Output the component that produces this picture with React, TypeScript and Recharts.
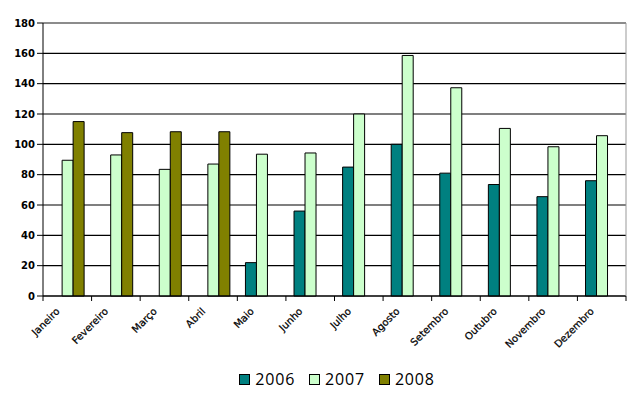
import React from "react";
import { BarChart, Bar, XAxis, YAxis, CartesianGrid, Legend, ReferenceLine } from "recharts";

const months = ["Janeiro", "Fevereiro", "Março", "Abril", "Maio", "Junho", "Julho", "Agosto", "Setembro", "Outubro", "Novembro", "Dezembro"];
const v2006: (number | null)[] = [null, null, null, null, 22, 56, 85, 100, 81, 73.5, 65.5, 76];
const v2007: (number | null)[] = [89.5, 93, 83.5, 87, 93.5, 94.3, 120, 158.6, 137.3, 110.5, 98.4, 105.7];
const v2008: (number | null)[] = [115, 107.7, 108.3, 108.3, null, null, null, null, null, null, null, null];
const yTicks = [0, 20, 40, 60, 80, 100, 120, 140, 160, 180];
const seriesNames = ["2006", "2007", "2008"];
const seriesColors = ["#008080", "#CCFFCC", "#808000"];

const data = months.map((m, i) => ({ month: m, s2006: v2006[i], s2007: v2007[i], s2008: v2008[i] }));

const BW = 583 / 12;

const XTick = (props: any) => {
  const { x, y, payload, index } = props;
  const tx = x - 7;
  const ty = y + 8;
  return (
    <g>
      <line x1={x - BW / 2} x2={x - BW / 2} y1={y - 8} y2={y - 3} stroke="#000" />
      {index === months.length - 1 && (
        <line x1={x + BW / 2} x2={x + BW / 2} y1={y - 8} y2={y - 3} stroke="#000" />
      )}
      <text
        x={tx}
        y={ty}
        textAnchor="end"
        transform={`rotate(-45 ${tx} ${ty})`}
        fontFamily="DejaVu Sans, Verdana, sans-serif"
        fontSize={10}
        fill="#000"
        stroke="#000"
        strokeWidth={0.25}
      >
        {payload.value}
      </text>
    </g>
  );
};

const LegendContent = () => (
  <div style={{ display: "flex", justifyContent: "center", alignItems: "center", fontFamily: "Open Sans, sans-serif", fontSize: 16, paddingLeft: 34 }}>
    {seriesNames.map((n, i) => (
      <div key={n} style={{ display: "flex", alignItems: "center", marginRight: i < 2 ? 14 : 0 }}>
        <span style={{ display: "inline-block", width: 9, height: 9, background: seriesColors[i], border: "1px solid #000", marginRight: 5 }} />
        <span style={{ letterSpacing: 0.8 }}>{n}</span>
      </div>
    ))}
  </div>
);

export default function App() {
  return (
    <div style={{ position: "absolute", left: 0, top: 0, width: 640, height: 397, background: "#fff" }}>
      <BarChart
        width={640}
        height={397}
        data={data}
        margin={{ top: 23, right: 0, left: 0, bottom: 0 }}
        barCategoryGap="16.7%"
        barGap={0}
      >
        <CartesianGrid yAxisId="left" vertical={false} stroke="#000" strokeWidth={1.2} />
        <XAxis
          dataKey="month"
          interval={0}
          height={101}
          axisLine={{ stroke: "#000" }}
          tickLine={false}
          tick={<XTick />}
        />
        <YAxis
          yAxisId="left"
          domain={[0, 180]}
          ticks={yTicks}
          interval={0}
          width={43}
          axisLine={{ stroke: "#000" }}
          tickLine={{ stroke: "#000" }}
          tickSize={6}
          tick={{ fill: "#000", fontSize: 10, fontWeight: "bold", fontFamily: "DejaVu Sans, Verdana, sans-serif" }}
        />
        <YAxis
          yAxisId="right"
          orientation="right"
          domain={[0, 180]}
          ticks={yTicks}
          width={14}
          axisLine={{ stroke: "#999" }}
          tickLine={false}
          tick={false}
        />
        <ReferenceLine yAxisId="left" y={180} stroke="#999" strokeWidth={1.2} />
        <Bar yAxisId="left" dataKey="s2006" name="2006" fill={seriesColors[0]} stroke="#000" strokeWidth={1} isAnimationActive={false} />
        <Bar yAxisId="left" dataKey="s2007" name="2007" fill={seriesColors[1]} stroke="#000" strokeWidth={1} isAnimationActive={false} />
        <Bar yAxisId="left" dataKey="s2008" name="2008" fill={seriesColors[2]} stroke="#000" strokeWidth={1} isAnimationActive={false} />
        <Legend
          content={<LegendContent />}
          wrapperStyle={{ position: "absolute", left: 0, width: 640, top: 368, height: 0, overflow: "visible" }}
        />
      </BarChart>
    </div>
  );
}
